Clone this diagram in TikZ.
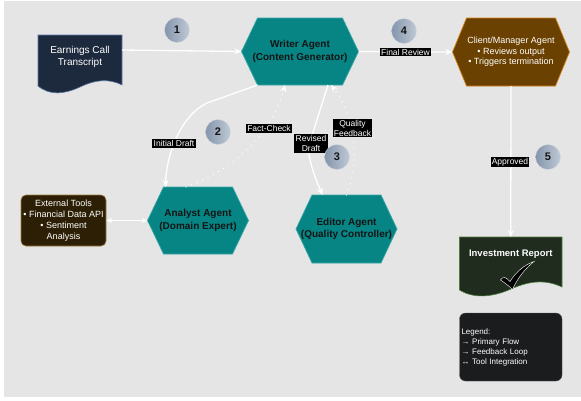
\documentclass[tikz,border=0pt]{standalone}
\usepackage{fontspec}
\setmainfont{Liberation Sans}
\usetikzlibrary{arrows.meta,backgrounds,calc}
\definecolor{bggray}{HTML}{E5E5E5}
\definecolor{tealfill}{HTML}{078484}
\definecolor{tealedge}{HTML}{3AA8A8}
\definecolor{brownfill}{HTML}{6A4100}
\definecolor{brownedge}{HTML}{D6821E}
\definecolor{navyfill}{HTML}{1D2A3D}
\definecolor{navyedge}{HTML}{5A78A8}
\definecolor{toolfill}{HTML}{2C1F05}
\definecolor{tooledge}{HTML}{9A7A3A}
\definecolor{greenfill}{HTML}{1F2C1E}
\definecolor{greenedge}{HTML}{4D7C3A}
\definecolor{legfill}{HTML}{1B1C1E}
\definecolor{legedge}{HTML}{5A5A5A}
\definecolor{darktext}{HTML}{141414}
\definecolor{numleft}{HTML}{8495AC}
\definecolor{numright}{HTML}{BFC9D5}
\newcommand\myhex[4]{%
  \fill[#3,draw=#4,line width=0.7pt] (#1.west) -- ([xshift=#2]#1.north west) -- ([xshift=-#2]#1.north east)
    -- (#1.east) -- ([xshift=-#2]#1.south east) -- ([xshift=#2]#1.south west) -- cycle;}
\begin{document}
\begin{tikzpicture}[x=1pt,y=-1pt,
  hexbox/.style={rectangle,outer sep=0pt,inner sep=0pt,align=center,text=darktext,
    font=\fontsize{10}{12.5}\selectfont\bfseries},
  flow/.style={draw=white,line width=1.3pt,-{Stealth[length=7pt,width=6pt]}},
  dotflow/.style={draw=white,line width=1.4pt,line cap=round,dash pattern=on 0pt off 6pt,-{Stealth[length=7pt,width=6pt]}},
  lbl/.style={fill=black,text=white,inner xsep=1.2pt,inner ysep=1pt,align=center,
    font=\fontsize{8.5}{10}\selectfont},
  num/.style={circle,minimum size=25pt,inner sep=0pt,left color=numleft,right color=numright,
    draw=numright!70!white,line width=0.3pt,text=darktext,font=\fontsize{11}{11}\selectfont\bfseries},
  wtext/.style={text=white,align=center,inner sep=0pt}
]
\useasboundingbox (0,0) rectangle (581,400);

% nodes
\node[hexbox,minimum width=117pt,minimum height=67pt] (writer) at (300,51.5) {Writer Agent\\(Content Generator)};
\node[hexbox,minimum width=117pt,minimum height=68pt,text=white,font=\fontsize{9}{10.5}\selectfont] (client) at (511,52)
  {Client/Manager Agent\\• Reviews output\\• Triggers termination};
\node[hexbox,minimum width=101pt,minimum height=67pt] (analyst) at (198,220.5) {Analyst Agent\\(Domain Expert)};
\node[hexbox,minimum width=101pt,minimum height=68pt] (editor) at (346.5,229) {Editor Agent\\(Quality Controller)};
\node[wtext,minimum width=84pt,minimum height=44pt,font=\fontsize{10}{12}\selectfont] (doc) at (80,57) {Earnings Call\\Transcript};
\node[rectangle,rounded corners=5pt,fill=toolfill,draw=tooledge,line width=0.6pt,minimum width=85pt,minimum height=51pt,
  inner sep=0pt,text=white,align=center,font=\fontsize{9}{11}\selectfont] (tools) at (63.5,220.5)
  {External Tools\\• Financial Data API\\• Sentiment\\Analysis};
\node[rectangle,outer sep=0pt,minimum width=102.5pt,minimum height=50pt,inner sep=0pt] (report) at (510.75,262) {};
\node[wtext,font=\fontsize{9.5}{11}\selectfont\bfseries] (reporttxt) at (510.75,254) {Investment Report};
\node[rectangle,rounded corners=6pt,fill=legfill,draw=legedge,line width=0.4pt,minimum width=102.5pt,minimum height=68pt,
  text width=98.5pt,inner xsep=2pt,inner ysep=0pt,align=left,text=white,font=\fontsize{8}{10}\selectfont] (legend) at (510.75,347)
  {Legend:\\→ Primary Flow\\→ Feedback Loop\\↔ Tool Integration};

\begin{scope}[on background layer]
  \fill[white] (0,0) rectangle (581,400);
  \fill[bggray] (4,1) rectangle (581,397);
  \myhex{writer}{16pt}{tealfill}{tealedge}
  \myhex{client}{14pt}{brownfill}{brownedge}
  \myhex{analyst}{16pt}{tealfill}{tealedge}
  \myhex{editor}{16pt}{tealfill}{tealedge}
  \filldraw[fill=navyfill,draw=navyedge,line width=0.6pt] (38,35) -- (122,35) -- (122,85)
    .. controls (108,78) and (95,80) .. (80,87) .. controls (65,94) and (50,96) .. (38,86) -- cycle;
  \filldraw[fill=greenfill,draw=greenedge,line width=0.6pt] (report.north west) -- (report.north east) -- (562,287)
    .. controls (545,279) and (529,281) .. (511,289) .. controls (493,297) and (474,299) .. (459.5,290) -- cycle;
\end{scope}

% check mark
\filldraw[fill=black,draw=white,line width=0.4pt] (500.5,280) .. controls (503,276) and (506,277) .. (510,281.5)
  .. controls (516,272) and (524,265) .. (534,261.5) .. controls (526,268) and (518,277) .. (512.5,289.5)
  .. controls (509,286) and (505,283) .. (500.5,280) -- cycle;

% connectors
\draw[flow] ([yshift=7pt]doc.east) -- (writer.west);
\draw[flow] (writer.east) -- (client.west);
\draw[flow] (client.south) -- (report.north);
\draw[draw=white,line width=1.3pt,{Stealth[length=6pt,width=5pt]}-{Stealth[length=6pt,width=5pt]}] (tools.east) -- (analyst.west);
\draw[flow] ([xshift=16pt]writer.south west) -- (207,103) .. controls (178,117) and (166,160) .. ([xshift=18pt]analyst.north west);
\draw[dotflow] ([xshift=-12pt]analyst.north) .. controls (230,172) and (272,135) .. ([xshift=-15pt]writer.south);
\draw[flow] ([xshift=28pt]writer.south) -- (308,148) .. controls (310,165) and (316,180) .. ([xshift=-24pt]editor.north);
\draw[dotflow] (editor.north) .. controls (362,160) and (352,110) .. ([xshift=31pt]writer.south);

% labels
\node[lbl] (lfinal) at (405.5,52) {Final Review};
\node[lbl] (lappr) at (510,162) {Approved};
\node[lbl] (linit) at (174,143.5) {Initial Draft};
\node[lbl] (lfact) at (269,128.5) {Fact-Check};
\node[lbl] (lrev) at (311,143.5) {Revised\\Draft};
\node[lbl] (lqual) at (352.5,128) {Quality\\Feedback};

% step numbers
\node[num] (n1) at (177,30) {1};
\node[num] (n2) at (218,132) {2};
\node[num] (n3) at (337,157) {3};
\node[num] (n4) at (404,31) {4};
\node[num] (n5) at (548,157) {5};
\end{tikzpicture}
\end{document}
